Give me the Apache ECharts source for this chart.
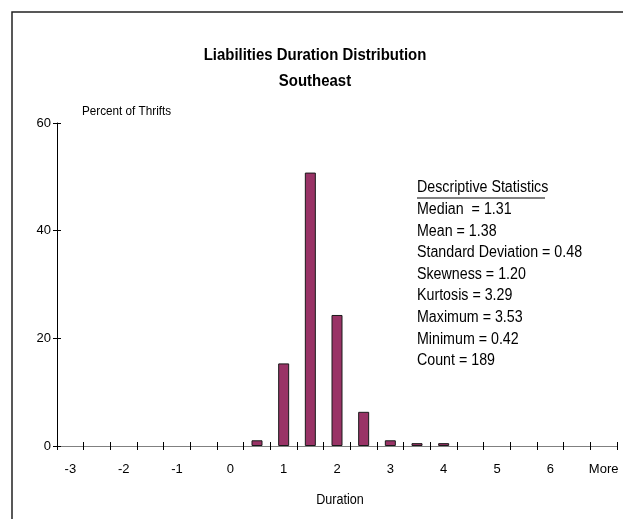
<!DOCTYPE html>
<html>
<head>
<meta charset="utf-8">
<script src="https://cdn.jsdelivr.net/npm/echarts@6/dist/echarts.min.js"></script>
<style>
html,body{margin:0;padding:0;background:#fff;}
#c{width:623px;height:519px;}
</style>
</head>
<body>
<div id="c"></div>
<script>
const categories = ['-3','-2.5','-2','-1.5','-1','-0.5','0','0.5','1','1.5','2','2.5','3','3.5','4','4.5','5','5.5','6','6.5','More'];
const percentValues = [0,0,0,0,0,0,0,1.06,15.34,50.79,24.34,6.35,1.06,0.53,0.53,0,0,0,0,0,0];
const yTicks = {min:0, max:60, interval:20};
const titleLines = ['Liabilities Duration Distribution','Southeast'];
const yAxisTitle = 'Percent of Thrifts';
const xAxisTitle = 'Duration';
const statsHeader = 'Descriptive Statistics';
const statsLines = ['Median  = 1.31','Mean = 1.38','Standard Deviation = 0.48','Skewness = 1.20','Kurtosis = 3.29','Maximum = 3.53','Minimum = 0.42','Count = 189'];

const FONT = "'Liberation Sans',Arial,sans-serif";
const chart = echarts.init(document.getElementById('c'));

function txt(text, x, y, size, sx, opts){
  opts = opts || {};
  return {
    type:'text', x:x, y:y, scaleX:sx, scaleY:1,
    style:{text:text, font:(opts.bold?'bold ':'')+size+'px '+FONT, fill:'#000',
      textAlign:opts.align||'left', textVerticalAlign:'middle'}
  };
}

const graphics = [
  {type:'rect', shape:{x:12, y:12, width:700, height:600}, style:{fill:'none', stroke:'#222', lineWidth:1.5}, z:-1},
  txt(titleLines[0], 315, 55, 17, 0.88, {bold:true, align:'center'}),
  txt(titleLines[1], 315, 81, 17, 0.88, {bold:true, align:'center'}),
  txt(yAxisTitle, 82, 111, 13, 0.9),
  txt(xAxisTitle, 340, 500, 14, 0.9, {align:'center'}),
  txt(statsHeader, 417, 188, 16, 0.89),
  {type:'line', shape:{x1:417, y1:198, x2:545, y2:198}, style:{stroke:'#000', lineWidth:1}}
];
statsLines.forEach((s,i)=>{
  graphics.push(txt(s, 417, 209.6+i*21.6, 16, 0.89));
});

const option = {
  animation:false,
  backgroundColor:'#fff',
  grid:{left:57, right:6, top:123, bottom:73, containLabel:false},
  xAxis:[{
    type:'category', data:categories, boundaryGap:true,
    axisLine:{lineStyle:{color:'#808080', width:1}},
    axisTick:{show:true, interval:0, alignWithLabel:false, length:4, inside:false, lineStyle:{color:'#000'}},
    axisLabel:{interval:1, fontFamily:FONT, fontSize:13, color:'#000', margin:17}
  },{
    type:'category', data:categories, boundaryGap:true, position:'bottom',
    axisLine:{show:false},
    axisTick:{show:true, interval:0, alignWithLabel:false, length:4, inside:true, lineStyle:{color:'#000'}},
    axisLabel:{show:false}
  }],
  yAxis:[{
    type:'value', min:yTicks.min, max:yTicks.max, interval:yTicks.interval,
    axisLine:{show:true, lineStyle:{color:'#000', width:1}},
    axisTick:{show:true, length:4, inside:false, lineStyle:{color:'#000'}},
    axisLabel:{fontFamily:FONT, fontSize:13, color:'#000', margin:6},
    splitLine:{show:false}
  },{
    type:'value', min:yTicks.min, max:yTicks.max, interval:yTicks.interval, position:'left',
    axisLine:{show:false},
    axisTick:{show:true, length:4, inside:true, lineStyle:{color:'#000'}},
    axisLabel:{show:false}, splitLine:{show:false}
  }],
  series:[{
    type:'bar', data:percentValues.map(v => v === 0 ? '-' : v), xAxisIndex:0, yAxisIndex:0,
    barWidth:11,
    itemStyle:{color:'#993366', borderColor:'#1a1a1a', borderWidth:1}
  }],
  graphic:graphics
};
chart.setOption(option);
</script>
</body>
</html>
